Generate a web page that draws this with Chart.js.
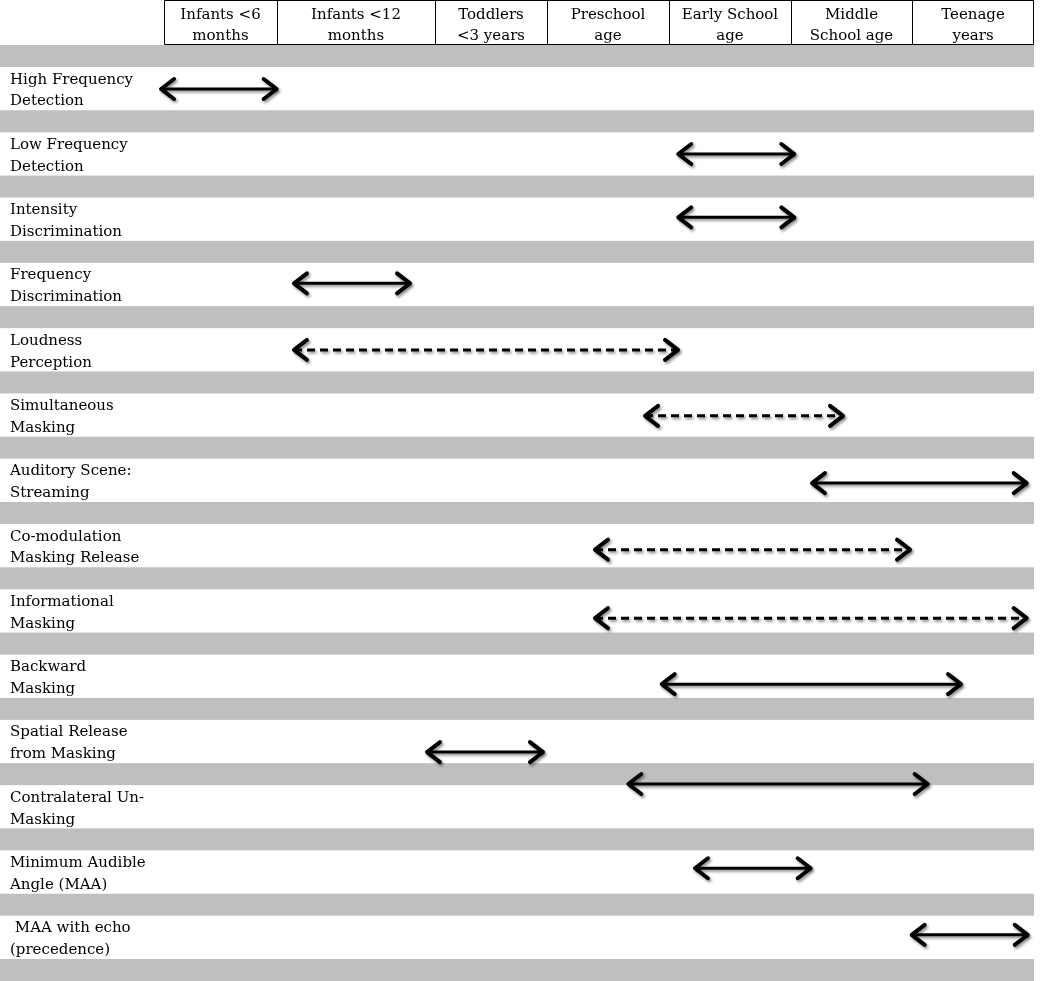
<!DOCTYPE html>
<html>
<head>
<meta charset="utf-8">
<style>
  html, body { margin: 0; padding: 0; background: #fff; }
  #wrap { width: 1050px; height: 981px; }
</style>
<script src="https://cdn.jsdelivr.net/npm/chart.js@4.4.1/dist/chart.umd.min.js"></script>
</head>
<body>
<div id="wrap"><canvas id="chart"></canvas></div>
<script>
// header columns (age groups) and their edges, in percent of the table width
const columnLabels = [
  ['Infants <6', 'months'],
  ['Infants <12', 'months'],
  ['Toddlers', '<3 years'],
  ['Preschool', 'age'],
  ['Early School', 'age'],
  ['Middle', 'School age'],
  ['Teenage', 'years']
];
const columnEdges = [0, 12.99, 31.15, 44.02, 58.05, 72.07, 85.98, 100];

// one row per ability
const abilities = [
  ['High Frequency', 'Detection'],
  ['Low Frequency', 'Detection'],
  ['Intensity', 'Discrimination'],
  ['Frequency', 'Discrimination'],
  ['Loudness', 'Perception'],
  ['Simultaneous', 'Masking'],
  ['Auditory Scene:', 'Streaming'],
  ['Co-modulation', 'Masking Release'],
  ['Informational', 'Masking'],
  ['Backward', 'Masking'],
  ['Spatial Release', 'from Masking'],
  ['Contralateral Un-', 'Masking'],
  ['Minimum Audible', 'Angle (MAA)'],
  [' MAA with echo', '(precedence)']
];

// arrows: start / end (percent of table width), row position, dashed or not
const arrowStart  = [-0.34, 59.11, 59.11, 14.94, 14.94, 55.29, 74.48, 49.54, 49.54, 57.21, 30.23, 53.37, 61.03, 85.94];
const arrowEnd    = [12.95, 72.45, 72.45, 28.28, 59.08, 78.05, 99.16, 85.75, 99.16, 91.61, 43.56, 87.78, 74.33, 99.28];
const arrowRow    = [0.674, 1.67, 2.64, 3.65, 4.67, 5.68, 6.71, 7.73, 8.78, 9.79, 10.83, 11.32, 12.61, 13.63];
const arrowDashed = [false, false, false, false, true, true, false, true, true, false, false, false, false, false];

const bandDepth = 0.337;   // grey separator height, in row units
const rowCount = abilities.length;

const FONT = '15px "DejaVu Serif"';

const tablePlugin = {
  id: 'tableLayout',
  beforeDatasetsDraw(chart) {
    const { ctx, chartArea, scales: { x, y } } = chart;
    ctx.save();

    // grey separators
    ctx.fillStyle = '#bfbfbf';
    for (let i = 0; i <= rowCount; i++) {
      const y0 = y.getPixelForValue(i);
      const y1 = y.getPixelForValue(i + bandDepth);
      ctx.fillRect(0, y0, x.getPixelForValue(100), y1 - y0);
    }

    // row labels
    ctx.fillStyle = '#000';
    ctx.font = FONT;
    ctx.textAlign = 'left';
    ctx.textBaseline = 'alphabetic';
    abilities.forEach((lines, j) => {
      ctx.fillText(lines[0], 10, y.getPixelForValue(j + 0.59));
      ctx.fillText(lines[1], 10, y.getPixelForValue(j + 0.926));
    });

    // header table
    const top = 0.5, bottom = chartArea.top - 0.5;
    ctx.strokeStyle = '#000';
    ctx.lineWidth = 1;
    ctx.beginPath();
    const left = Math.round(x.getPixelForValue(columnEdges[0])) + 0.5;
    const right = Math.round(x.getPixelForValue(columnEdges[columnEdges.length - 1])) - 0.5;
    ctx.moveTo(left, top); ctx.lineTo(right, top);
    ctx.moveTo(left, bottom); ctx.lineTo(right, bottom);
    columnEdges.forEach((e, k) => {
      let px = Math.round(x.getPixelForValue(e)) + 0.5;
      if (k === columnEdges.length - 1) px = right;
      ctx.moveTo(px, top); ctx.lineTo(px, bottom);
    });
    ctx.stroke();

    ctx.textAlign = 'center';
    columnLabels.forEach((lines, k) => {
      const cx = (x.getPixelForValue(columnEdges[k]) + x.getPixelForValue(columnEdges[k + 1])) / 2;
      ctx.fillText(lines[0], cx, chartArea.top - 26);
      ctx.fillText(lines[1], cx, chartArea.top - 5);
    });
    ctx.restore();
  },
  beforeDatasetDraw(chart) {
    const ctx = chart.ctx;
    ctx.save();
    ctx.shadowColor = 'rgba(0,0,0,0.45)';
    ctx.shadowOffsetX = 1.5;
    ctx.shadowOffsetY = 2;
    ctx.shadowBlur = 3;
  },
  afterDatasetDraw(chart, args) {
    const ctx = chart.ctx;
    const pts = args.meta.data;
    if (pts.length === 2) {
      const [a, b] = pts;
      ctx.setLineDash([]);
      ctx.strokeStyle = '#000';
      ctx.lineWidth = 4;
      ctx.lineCap = 'round';
      ctx.lineJoin = 'round';
      ctx.beginPath();
      ctx.moveTo(a.x + 13, a.y - 10); ctx.lineTo(a.x, a.y); ctx.lineTo(a.x + 13, a.y + 10);
      ctx.moveTo(b.x - 13, b.y - 10); ctx.lineTo(b.x, b.y); ctx.lineTo(b.x - 13, b.y + 10);
      ctx.stroke();
    }
    ctx.restore();
  }
};

const datasets = arrowStart.map((s, i) => ({
  label: abilities[i].join(' '),
  data: [{ x: s, y: arrowRow[i] }, { x: arrowEnd[i], y: arrowRow[i] }],
  borderColor: '#000',
  borderWidth: 3,
  borderDash: arrowDashed[i] ? [8, 5] : [],
  pointRadius: 0,
  fill: false,
  clip: false
}));

new Chart(document.getElementById('chart'), {
  type: 'line',
  data: { datasets },
  options: {
    responsive: true,
    maintainAspectRatio: false,
    animation: false,
    layout: { padding: { left: 164, right: 16, top: 45, bottom: 0 } },
    plugins: {
      legend: { display: false },
      tooltip: { enabled: false }
    },
    scales: {
      x: { type: 'linear', min: 0, max: 100, display: false },
      y: { type: 'linear', min: 0, max: rowCount + bandDepth, reverse: true, display: false }
    }
  },
  plugins: [tablePlugin]
});
</script>
</body>
</html>
